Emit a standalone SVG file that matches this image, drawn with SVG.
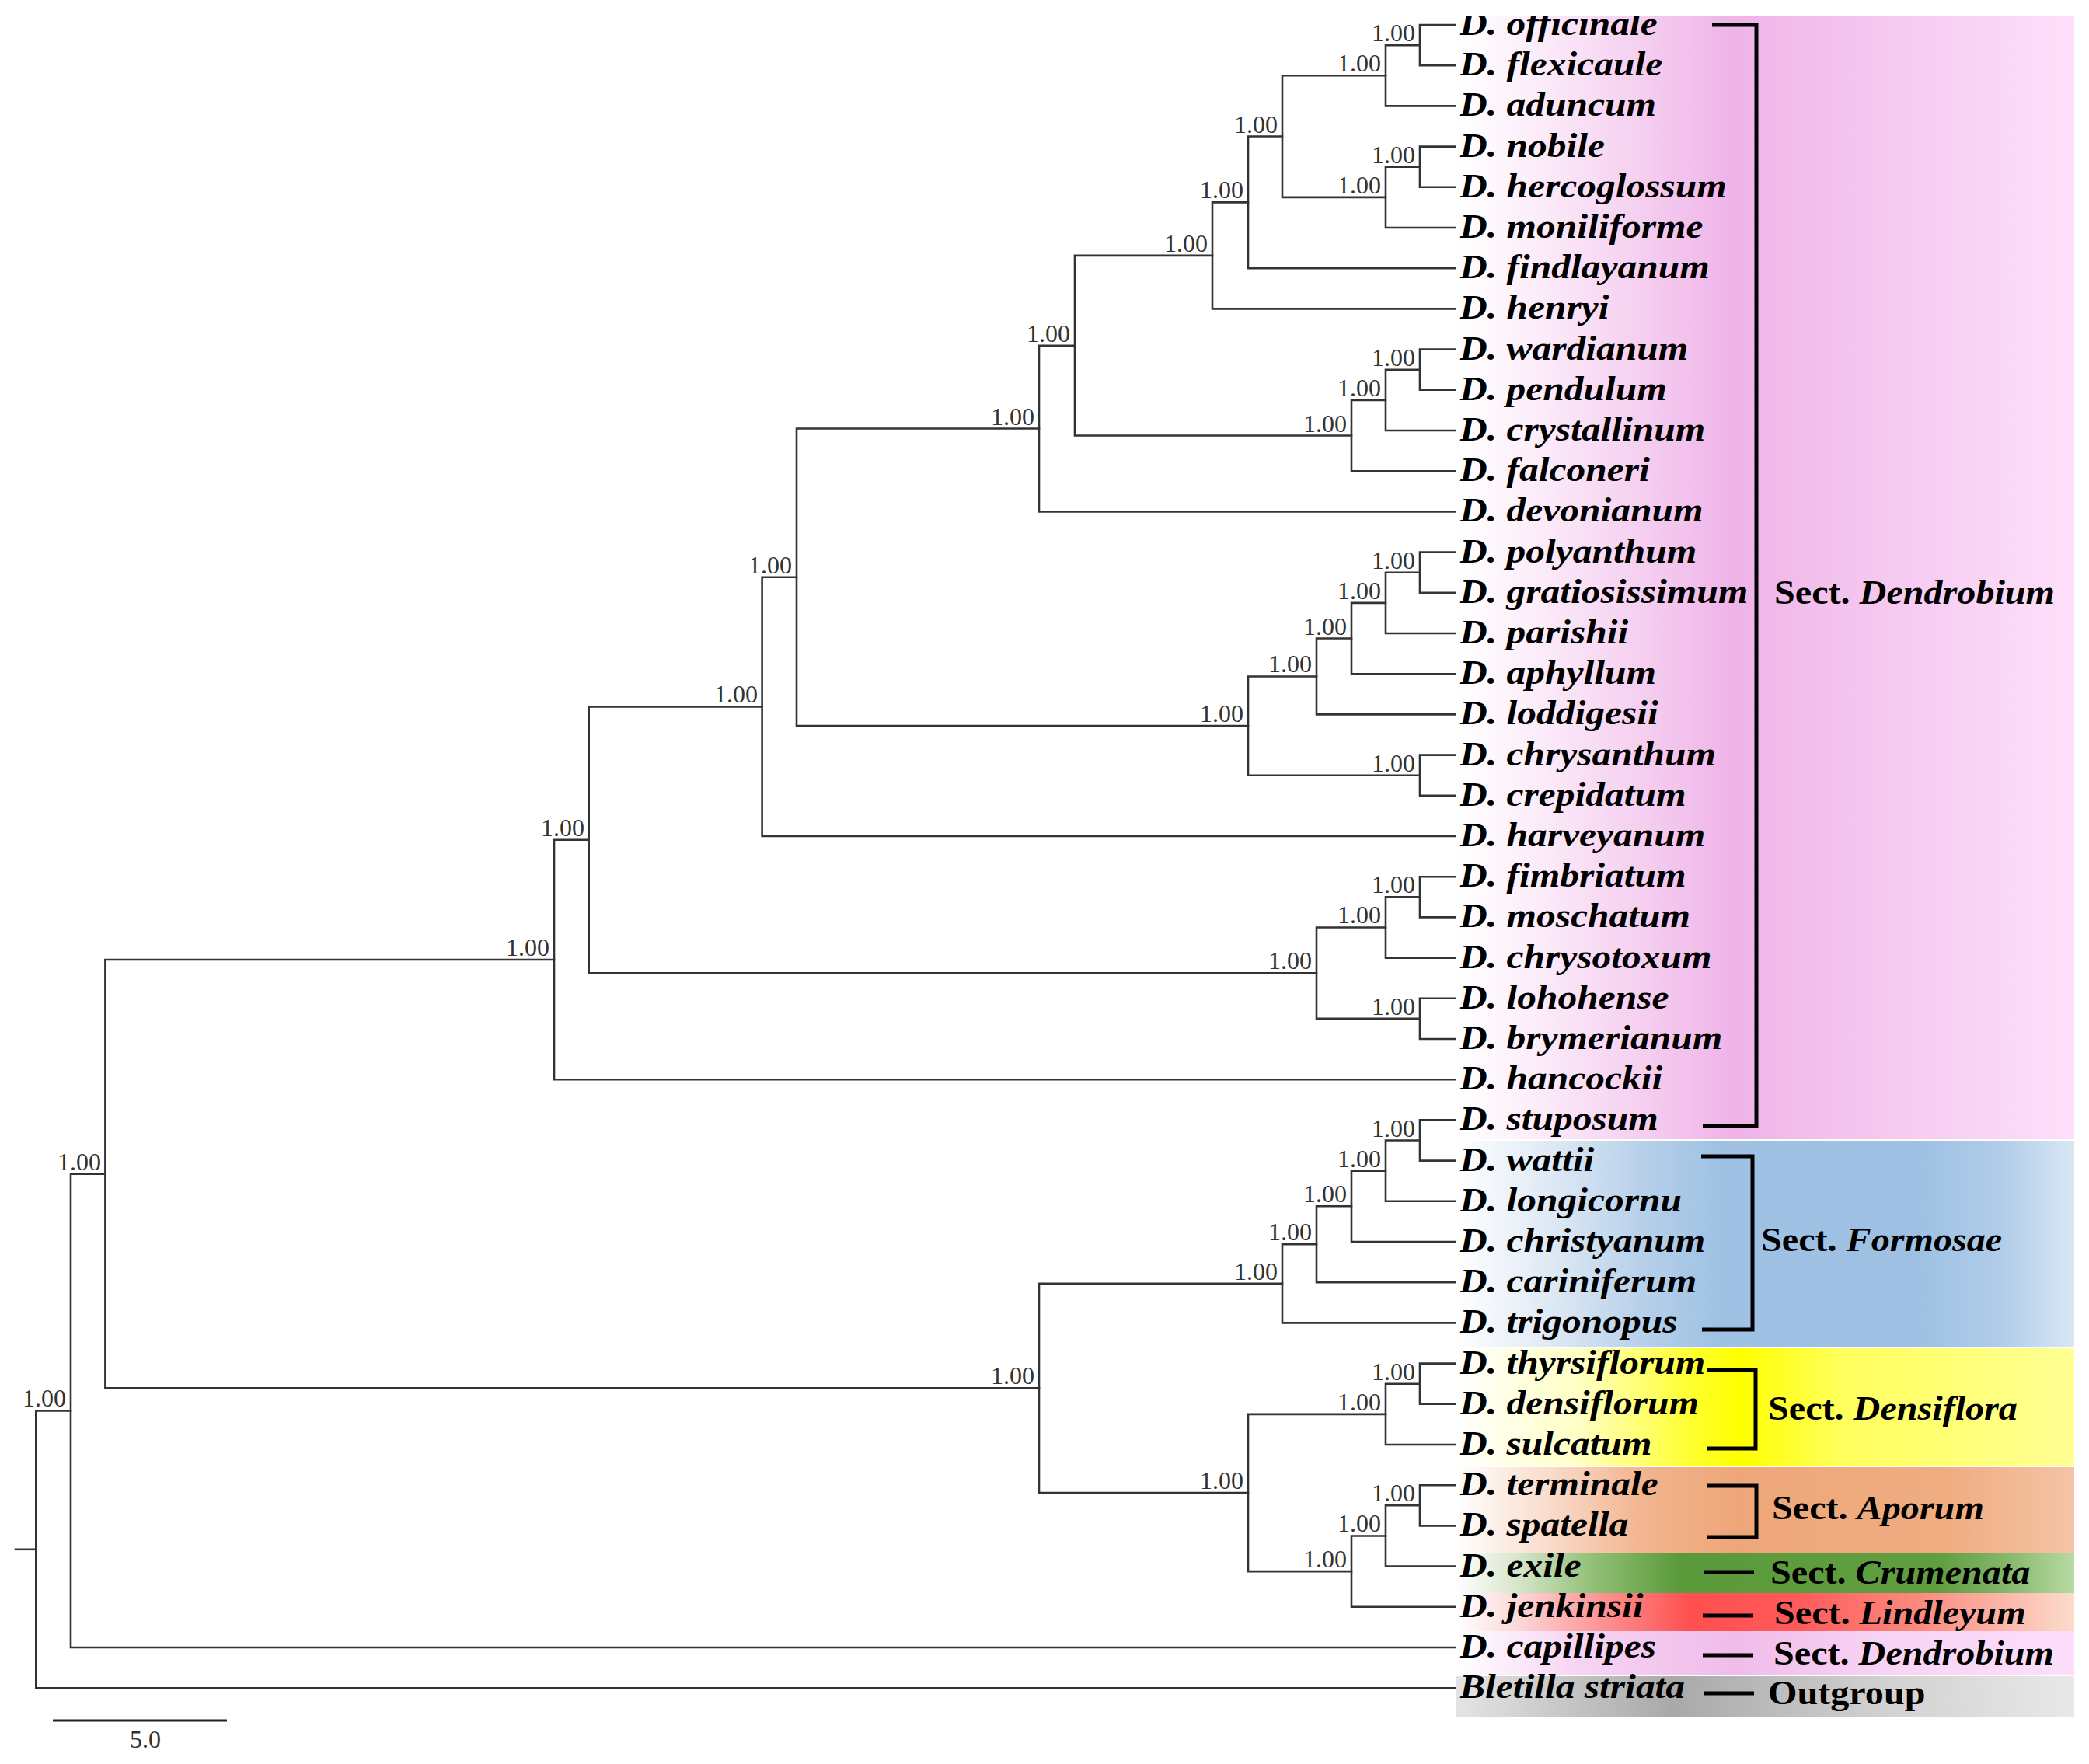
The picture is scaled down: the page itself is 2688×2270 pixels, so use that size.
<svg xmlns="http://www.w3.org/2000/svg" width="2688" height="2270" viewBox="0 0 2688 2270">
<style>
.br{stroke:#333;stroke-width:2.6;fill:none;stroke-linecap:square}
.bk{stroke:#000;stroke-width:5;fill:none}
.sp{font-family:"Liberation Serif","Times New Roman",serif;font-size:45px;font-weight:bold;font-style:italic;fill:#000}
.bs{font-family:"Liberation Serif","Times New Roman",serif;font-size:32px;fill:#333;text-anchor:end}
.sc{font-family:"Liberation Serif","Times New Roman",serif;font-size:45px;font-weight:bold;fill:#000}
.it{font-style:italic}
</style>
<defs>
<linearGradient id="gPink" gradientUnits="userSpaceOnUse" x1="1873" y1="0" x2="2669" y2="0">
<stop offset="0" stop-color="#ffffff"/><stop offset="0.1" stop-color="#fdf2fb"/><stop offset="0.3" stop-color="#f5cff0"/><stop offset="0.45" stop-color="#efb3e8"/><stop offset="0.6" stop-color="#f3c1ed"/><stop offset="1" stop-color="#fde0fa"/>
</linearGradient>
<linearGradient id="gBlue" gradientUnits="userSpaceOnUse" x1="1873" y1="0" x2="2669" y2="0">
<stop offset="0" stop-color="#ffffff"/><stop offset="0.16" stop-color="#dde8f4"/><stop offset="0.29" stop-color="#bad2eb"/><stop offset="0.42" stop-color="#9fc2e4"/><stop offset="0.75" stop-color="#9ec1e3"/><stop offset="0.88" stop-color="#b0cce9"/><stop offset="1" stop-color="#dae7f4"/>
</linearGradient>
<linearGradient id="gYellow" gradientUnits="userSpaceOnUse" x1="1873" y1="0" x2="2669" y2="0">
<stop offset="0" stop-color="#ffffff"/><stop offset="0.2" stop-color="#ffffc4"/><stop offset="0.38" stop-color="#ffff30"/><stop offset="0.46" stop-color="#ffff00"/><stop offset="0.62" stop-color="#ffff5c"/><stop offset="1" stop-color="#ffff94"/>
</linearGradient>
<linearGradient id="gOrange" gradientUnits="userSpaceOnUse" x1="1873" y1="0" x2="2669" y2="0">
<stop offset="0" stop-color="#ffffff"/><stop offset="0.15" stop-color="#f9dccb"/><stop offset="0.3" stop-color="#f2b58f"/><stop offset="0.45" stop-color="#eea779"/><stop offset="0.8" stop-color="#f0ad82"/><stop offset="1" stop-color="#f5c4a6"/>
</linearGradient>
<linearGradient id="gGreen" gradientUnits="userSpaceOnUse" x1="1873" y1="0" x2="2669" y2="0">
<stop offset="0" stop-color="#ffffff"/><stop offset="0.1" stop-color="#d7e6cb"/><stop offset="0.22" stop-color="#93c078"/><stop offset="0.36" stop-color="#5b9a3a"/><stop offset="0.78" stop-color="#609e40"/><stop offset="0.88" stop-color="#80b466"/><stop offset="1" stop-color="#b8daa4"/>
</linearGradient>
<linearGradient id="gRed" gradientUnits="userSpaceOnUse" x1="1873" y1="0" x2="2669" y2="0">
<stop offset="0" stop-color="#ffffff"/><stop offset="0.1" stop-color="#fcd8d8"/><stop offset="0.25" stop-color="#fd8c8c"/><stop offset="0.38" stop-color="#ff4f4f"/><stop offset="0.55" stop-color="#ff5a5a"/><stop offset="0.75" stop-color="#fb8a7e"/><stop offset="1" stop-color="#fbdccc"/>
</linearGradient>
<linearGradient id="gPink2" gradientUnits="userSpaceOnUse" x1="1873" y1="0" x2="2669" y2="0">
<stop offset="0" stop-color="#ffffff"/><stop offset="0.2" stop-color="#f6d4f3"/><stop offset="0.45" stop-color="#f0bcea"/><stop offset="0.7" stop-color="#f8d4f5"/><stop offset="1" stop-color="#fcdefa"/>
</linearGradient>
<linearGradient id="gGray" gradientUnits="userSpaceOnUse" x1="1873" y1="0" x2="2669" y2="0">
<stop offset="0" stop-color="#e4e4e4"/><stop offset="0.35" stop-color="#a9a9a9"/><stop offset="0.45" stop-color="#b4b4b4"/><stop offset="0.7" stop-color="#d2d2d2"/><stop offset="1" stop-color="#e8e8e8"/>
</linearGradient>
<clipPath id="topclip" clipPathUnits="userSpaceOnUse"><rect x="0" y="20" width="2688" height="2250"/></clipPath>
</defs>
<rect x="0" y="0" width="2688" height="2270" fill="#ffffff"/>
<g id="bands">
<rect x="1873" y="20" width="796" height="1446" fill="url(#gPink)"/>
<rect x="1873" y="1468" width="796" height="265" fill="url(#gBlue)"/>
<rect x="1873" y="1735" width="796" height="151" fill="url(#gYellow)"/>
<rect x="1873" y="1888" width="796" height="110" fill="url(#gOrange)"/>
<rect x="1873" y="1998" width="796" height="52" fill="url(#gGreen)"/>
<rect x="1873" y="2050" width="796" height="49" fill="url(#gRed)"/>
<rect x="1873" y="2099" width="796" height="56" fill="url(#gPink2)"/>
<rect x="1873" y="2157" width="796" height="53" fill="url(#gGray)"/>
</g>
<g id="connectors" class="br">
<path d="M1872 32 H1827 V84.2 H1872"/>
<path d="M1827 58.1 H1783 V136.4 H1872"/>
<path d="M1872 188.6 H1827 V240.8 H1872"/>
<path d="M1827 214.7 H1783 V293 H1872"/>
<path d="M1783 97.25 H1650 V253.85 H1783"/>
<path d="M1650 175.55 H1606 V345.2 H1872"/>
<path d="M1606 260.4 H1560 V397.4 H1872"/>
<path d="M1872 449.6 H1827 V501.8 H1872"/>
<path d="M1827 475.7 H1783 V554 H1872"/>
<path d="M1783 514.85 H1739 V606.2 H1872"/>
<path d="M1560 328.9 H1383 V560.5 H1739"/>
<path d="M1383 444.7 H1337 V658.4 H1872"/>
<path d="M1872 710.6 H1827 V762.8 H1872"/>
<path d="M1827 736.7 H1783 V815 H1872"/>
<path d="M1783 775.85 H1739 V867.2 H1872"/>
<path d="M1739 821.5 H1694 V919.4 H1872"/>
<path d="M1872 971.6 H1827 V1023.8 H1872"/>
<path d="M1694 870.45 H1606 V997.7 H1827"/>
<path d="M1337 551.55 H1025 V934.1 H1606"/>
<path d="M1025 742.8 H980.6 V1076 H1872"/>
<path d="M1872 1128.2 H1827 V1180.4 H1872"/>
<path d="M1827 1154.3 H1783 V1232.6 H1872"/>
<path d="M1872 1284.8 H1827 V1337 H1872"/>
<path d="M1783 1193.45 H1694 V1310.9 H1827"/>
<path d="M980.6 909.4 H757.7 V1252.2 H1694"/>
<path d="M757.7 1080.8 H713 V1389.2 H1872"/>
<path d="M1872 1441.4 H1827 V1493.6 H1872"/>
<path d="M1827 1467.5 H1783 V1545.8 H1872"/>
<path d="M1783 1506.65 H1739 V1598 H1872"/>
<path d="M1739 1552.3 H1694 V1650.2 H1872"/>
<path d="M1694 1601.25 H1650 V1702.4 H1872"/>
<path d="M1872 1754.6 H1827 V1806.8 H1872"/>
<path d="M1827 1780.7 H1783 V1859 H1872"/>
<path d="M1872 1911.2 H1827 V1963.4 H1872"/>
<path d="M1827 1937.3 H1783 V2015.6 H1872"/>
<path d="M1783 1976.45 H1739 V2067.8 H1872"/>
<path d="M1783 1819.85 H1606 V2022.1 H1739"/>
<path d="M1650 1651.8 H1337 V1921 H1606"/>
<path d="M713 1235 H135.4 V1786.4 H1337"/>
<path d="M135.4 1510.7 H91 V2120 H1872"/>
<path d="M91 1815.35 H46.3 V2172.2 H1872"/>
<path d="M20 1993.8 H46.3"/>
</g>
<g id="support">
<g id="n_a"><text class="bs" x="1821" y="53">1.00</text></g>
<g id="n_b"><text class="bs" x="1777" y="92">1.00</text></g>
<g id="n_c"><text class="bs" x="1821" y="210">1.00</text></g>
<g id="n_d"><text class="bs" x="1777" y="249">1.00</text></g>
<g id="n_e"><text class="bs" x="1644" y="171">1.00</text></g>
<g id="n_f"><text class="bs" x="1600" y="255">1.00</text></g>
<g id="n_g"><text class="bs" x="1554" y="324">1.00</text></g>
<g id="n_h"><text class="bs" x="1821" y="471">1.00</text></g>
<g id="n_i"><text class="bs" x="1777" y="510">1.00</text></g>
<g id="n_j"><text class="bs" x="1733" y="556">1.00</text></g>
<g id="n_k"><text class="bs" x="1377" y="440">1.00</text></g>
<g id="n_l"><text class="bs" x="1331" y="547">1.00</text></g>
<g id="n_m"><text class="bs" x="1821" y="732">1.00</text></g>
<g id="n_n"><text class="bs" x="1777" y="771">1.00</text></g>
<g id="n_o"><text class="bs" x="1733" y="817">1.00</text></g>
<g id="n_p"><text class="bs" x="1688" y="865">1.00</text></g>
<g id="n_q"><text class="bs" x="1821" y="993">1.00</text></g>
<g id="n_r"><text class="bs" x="1600" y="929">1.00</text></g>
<g id="n_s"><text class="bs" x="1019" y="738">1.00</text></g>
<g id="n_t"><text class="bs" x="975" y="904">1.00</text></g>
<g id="n_u"><text class="bs" x="1821" y="1149">1.00</text></g>
<g id="n_v"><text class="bs" x="1777" y="1188">1.00</text></g>
<g id="n_w"><text class="bs" x="1821" y="1306">1.00</text></g>
<g id="n_x"><text class="bs" x="1688" y="1247">1.00</text></g>
<g id="n_y"><text class="bs" x="752" y="1076">1.00</text></g>
<g id="n_z"><text class="bs" x="707" y="1230">1.00</text></g>
<g id="f_1"><text class="bs" x="1821" y="1463">1.00</text></g>
<g id="f_2"><text class="bs" x="1777" y="1502">1.00</text></g>
<g id="f_3"><text class="bs" x="1733" y="1547">1.00</text></g>
<g id="f_4"><text class="bs" x="1688" y="1596">1.00</text></g>
<g id="f_5"><text class="bs" x="1644" y="1647">1.00</text></g>
<g id="d_1"><text class="bs" x="1821" y="1776">1.00</text></g>
<g id="d_2"><text class="bs" x="1777" y="1815">1.00</text></g>
<g id="a_1"><text class="bs" x="1821" y="1932">1.00</text></g>
<g id="a_2"><text class="bs" x="1777" y="1971">1.00</text></g>
<g id="a_3"><text class="bs" x="1733" y="2017">1.00</text></g>
<g id="da"><text class="bs" x="1600" y="1916">1.00</text></g>
<g id="fda"><text class="bs" x="1331" y="1781">1.00</text></g>
<g id="b_1"><text class="bs" x="130" y="1506">1.00</text></g>
<g id="b_2"><text class="bs" x="85" y="1810">1.00</text></g>
</g>
<g id="leaves">
<g id="t00" clip-path="url(#topclip)"><text class="sp" transform="translate(1878,45) scale(1.1,1)">D. officinale</text></g>
<g id="t01"><text class="sp" transform="translate(1878,97.2) scale(1.1,1)">D. flexicaule</text></g>
<g id="t02"><text class="sp" transform="translate(1878,149.4) scale(1.1,1)">D. aduncum</text></g>
<g id="t03"><text class="sp" transform="translate(1878,201.6) scale(1.1,1)">D. nobile</text></g>
<g id="t04"><text class="sp" transform="translate(1878,253.8) scale(1.1,1)">D. hercoglossum</text></g>
<g id="t05"><text class="sp" transform="translate(1878,306) scale(1.1,1)">D. moniliforme</text></g>
<g id="t06"><text class="sp" transform="translate(1878,358.2) scale(1.1,1)">D. findlayanum</text></g>
<g id="t07"><text class="sp" transform="translate(1878,410.4) scale(1.1,1)">D. henryi</text></g>
<g id="t08"><text class="sp" transform="translate(1878,462.6) scale(1.1,1)">D. wardianum</text></g>
<g id="t09"><text class="sp" transform="translate(1878,514.8) scale(1.1,1)">D. pendulum</text></g>
<g id="t10"><text class="sp" transform="translate(1878,567) scale(1.1,1)">D. crystallinum</text></g>
<g id="t11"><text class="sp" transform="translate(1878,619.2) scale(1.1,1)">D. falconeri</text></g>
<g id="t12"><text class="sp" transform="translate(1878,671.4) scale(1.1,1)">D. devonianum</text></g>
<g id="t13"><text class="sp" transform="translate(1878,723.6) scale(1.1,1)">D. polyanthum</text></g>
<g id="t14"><text class="sp" transform="translate(1878,775.8) scale(1.1,1)">D. gratiosissimum</text></g>
<g id="t15"><text class="sp" transform="translate(1878,828) scale(1.1,1)">D. parishii</text></g>
<g id="t16"><text class="sp" transform="translate(1878,880.2) scale(1.1,1)">D. aphyllum</text></g>
<g id="t17"><text class="sp" transform="translate(1878,932.4) scale(1.1,1)">D. loddigesii</text></g>
<g id="t18"><text class="sp" transform="translate(1878,984.6) scale(1.1,1)">D. chrysanthum</text></g>
<g id="t19"><text class="sp" transform="translate(1878,1036.8) scale(1.1,1)">D. crepidatum</text></g>
<g id="t20"><text class="sp" transform="translate(1878,1089) scale(1.1,1)">D. harveyanum</text></g>
<g id="t21"><text class="sp" transform="translate(1878,1141.2) scale(1.1,1)">D. fimbriatum</text></g>
<g id="t22"><text class="sp" transform="translate(1878,1193.4) scale(1.1,1)">D. moschatum</text></g>
<g id="t23"><text class="sp" transform="translate(1878,1245.6) scale(1.1,1)">D. chrysotoxum</text></g>
<g id="t24"><text class="sp" transform="translate(1878,1297.8) scale(1.1,1)">D. lohohense</text></g>
<g id="t25"><text class="sp" transform="translate(1878,1350) scale(1.1,1)">D. brymerianum</text></g>
<g id="t26"><text class="sp" transform="translate(1878,1402.2) scale(1.1,1)">D. hancockii</text></g>
<g id="t27"><text class="sp" transform="translate(1878,1454.4) scale(1.1,1)">D. stuposum</text></g>
<g id="t28"><text class="sp" transform="translate(1878,1506.6) scale(1.1,1)">D. wattii</text></g>
<g id="t29"><text class="sp" transform="translate(1878,1558.8) scale(1.1,1)">D. longicornu</text></g>
<g id="t30"><text class="sp" transform="translate(1878,1611) scale(1.1,1)">D. christyanum</text></g>
<g id="t31"><text class="sp" transform="translate(1878,1663.2) scale(1.1,1)">D. cariniferum</text></g>
<g id="t32"><text class="sp" transform="translate(1878,1715.4) scale(1.1,1)">D. trigonopus</text></g>
<g id="t33"><text class="sp" transform="translate(1878,1767.6) scale(1.1,1)">D. thyrsiflorum</text></g>
<g id="t34"><text class="sp" transform="translate(1878,1819.8) scale(1.1,1)">D. densiflorum</text></g>
<g id="t35"><text class="sp" transform="translate(1878,1872) scale(1.1,1)">D. sulcatum</text></g>
<g id="t36"><text class="sp" transform="translate(1878,1924.2) scale(1.1,1)">D. terminale</text></g>
<g id="t37"><text class="sp" transform="translate(1878,1976.4) scale(1.1,1)">D. spatella</text></g>
<g id="t38"><text class="sp" transform="translate(1878,2028.6) scale(1.1,1)">D. exile</text></g>
<g id="t39"><text class="sp" transform="translate(1878,2080.8) scale(1.1,1)">D. jenkinsii</text></g>
<g id="t40"><text class="sp" transform="translate(1878,2133) scale(1.1,1)">D. capillipes</text></g>
<g id="t41"><text class="sp" transform="translate(1878,2185.2) scale(1.1,1)">Bletilla striata</text></g>
</g>
<g id="sections">
<g id="s_dendrobium"><path class="bk" d="M2203 32 H2260 V1449 H2191"/><text class="sc" transform="translate(2283,777) scale(1.07,1)">Sect. <tspan class="it">Dendrobium</tspan></text></g>
<g id="s_formosae"><path class="bk" d="M2189 1488 H2255 V1711 H2190"/><text class="sc" transform="translate(2266,1610) scale(1.07,1)">Sect. <tspan class="it">Formosae</tspan></text></g>
<g id="s_densiflora"><path class="bk" d="M2197 1763 H2259 V1864 H2197"/><text class="sc" transform="translate(2275,1827) scale(1.07,1)">Sect. <tspan class="it">Densiflora</tspan></text></g>
<g id="s_aporum"><path class="bk" d="M2197 1912 H2260 V1978 H2197"/><text class="sc" transform="translate(2280,1955) scale(1.07,1)">Sect. <tspan class="it">Aporum</tspan></text></g>
<g id="s_crumenata"><path class="bk" d="M2193 2023 H2257"/><text class="sc" transform="translate(2278,2038) scale(1.07,1)">Sect. <tspan class="it">Crumenata</tspan></text></g>
<g id="s_lindleyum"><path class="bk" d="M2191 2079 H2256"/><text class="sc" transform="translate(2283,2090) scale(1.07,1)">Sect. <tspan class="it">Lindleyum</tspan></text></g>
<g id="s_dendrobium2"><path class="bk" d="M2191 2130 H2256"/><text class="sc" transform="translate(2282,2142) scale(1.07,1)">Sect. <tspan class="it">Dendrobium</tspan></text></g>
<g id="s_outgroup"><path class="bk" d="M2193 2179 H2257"/><text class="sc" transform="translate(2275,2193) scale(1.07,1)">Outgroup</text></g>
</g>
<g id="scalebar">
<path d="M68 2214 H292" stroke="#222" stroke-width="3" fill="none"/>
<text x="187" y="2249" font-family="Liberation Serif, serif" font-size="32" fill="#333" text-anchor="middle">5.0</text>
</g>
</svg>
